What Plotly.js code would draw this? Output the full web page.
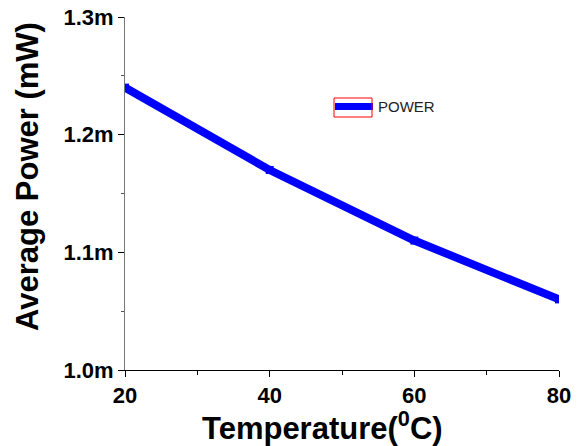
<!DOCTYPE html>
<html>
<head>
<meta charset="utf-8">
<script src="https://cdn.plot.ly/plotly-3.0.1.min.js"></script>
<style>html,body{margin:0;padding:0;background:#fff;}#chart{width:580px;height:446px;}</style>
</head>
<body>
<div id="chart"></div>
<script>
// Data (values in the unit whose SI "m" suffix is shown on the axis)
const temperature = [20, 40, 60, 80];
const power = [0.00124, 0.00117, 0.00111, 0.00106];
const seriesName = "POWER";
const xTickVals = [20, 40, 60, 80];
const yTickVals = [0.001, 0.0011, 0.0012, 0.0013];
const xTitle = "Temperature(<sup>0</sup>C)";
const yTitle = "Average Power (mW)";

const FONT = "Liberation Sans, Arial, sans-serif";

const trace = {
  x: temperature,
  y: power,
  name: seriesName,
  type: "scatter",
  mode: "lines+markers",
  line: {color: "#0000ff", width: 8},
  marker: {color: "#0000ff", size: 8, symbol: "square"},
  showlegend: false
};

// paper coordinates from pixel positions (plot area 434 x 353 px)
const lx = px => (px - 125) / 434;
const ly = py => (370 - py) / 353;

const layout = {
  width: 580, height: 446,
  margin: {l: 125, r: 21, t: 17, b: 76},
  paper_bgcolor: "#fff", plot_bgcolor: "#fff",
  font: {family: FONT, color: "#000"},
  xaxis: {
    range: [20, 80], tickvals: xTickVals,
    ticks: "outside", ticklen: 6, tickcolor: "#000",
    minor: {dtick: 10, ticks: "outside", ticklen: 4, tickcolor: "#000", showgrid: false},
    showline: true, linecolor: "#000", linewidth: 1,
    showgrid: false, zeroline: false,
    tickfont: {size: 22, family: FONT, weight: "bold"}
  },
  yaxis: {
    range: [0.001, 0.0013], tickvals: yTickVals, tickformat: ".2s",
    ticks: "outside", ticklen: 6, tickcolor: "#000",
    minor: {dtick: 0.00005, ticks: "outside", ticklen: 3, tickcolor: "#555", showgrid: false},
    showline: true, linecolor: "#777", linewidth: 1,
    showgrid: false, zeroline: false,
    tickfont: {size: 22, family: FONT, weight: "bold"}
  },
  showlegend: false,
  shapes: [
    {type: "line", xref: "paper", yref: "paper",
     x0: lx(335), x1: lx(373), y0: ly(106.5), y1: ly(106.5),
     line: {color: "#0000ff", width: 7}},
    {type: "rect", xref: "paper", yref: "paper",
     x0: lx(334), x1: lx(372), y0: ly(117), y1: ly(98),
     line: {color: "#ff0000", width: 1}, fillcolor: "rgba(0,0,0,0)"}
  ],
  annotations: [
    {text: seriesName, xref: "paper", yref: "paper", x: lx(376), y: ly(107),
     xanchor: "left", yanchor: "middle", showarrow: false,
     font: {size: 15, color: "#222", family: FONT}},
    {text: xTitle, xref: "paper", yref: "paper", x: lx(322), y: ly(426),
     xanchor: "center", yanchor: "middle", showarrow: false,
     font: {size: 31, family: FONT, weight: "bold", color: "#000"}},
    {text: yTitle, xref: "paper", yref: "paper", x: lx(27), y: ly(177),
     xanchor: "center", yanchor: "middle", showarrow: false, textangle: -90,
     font: {size: 31, family: FONT, weight: "bold", color: "#000"}}
  ]
};

Plotly.newPlot("chart", [trace], layout, {displayModeBar: false, staticPlot: true});
</script>
</body>
</html>
